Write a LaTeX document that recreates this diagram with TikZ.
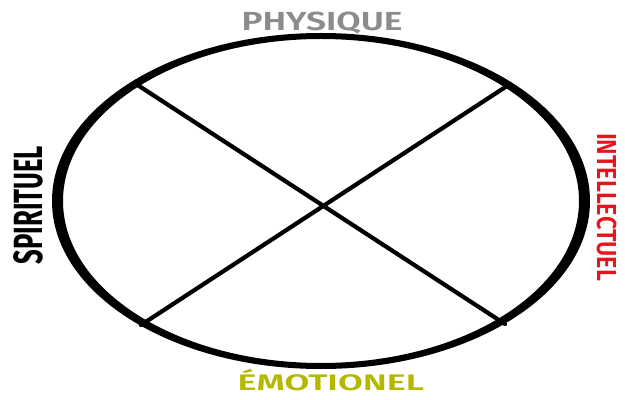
\documentclass[tikz,border=0pt]{standalone}
\usepackage{xcolor}
\usepackage{fontspec}
\setmainfont{Fira Sans}[UprightFont=* SemiBold, BoldFont=* Bold]
\definecolor{physgray}{HTML}{8C8C8C}
\definecolor{emoyellow}{HTML}{B4B800}
\definecolor{intelred}{HTML}{E8141C}
\tikzset{
  label/.style={inner sep=0pt},
  chord/.style={line width=3pt, line cap=round},
}
\begin{document}
\begin{tikzpicture}[x=0.025cm, y=-0.025cm]
  \useasboundingbox (0,0) rectangle (625,400);
  \coordinate (c) at (321,201);
  % thick hand-drawn ring, heavier at the sides
  \fill[black, even odd rule] (c) ellipse [x radius=269, y radius=168]
                              (c) ellipse [x radius=258, y radius=162];
  % the two chords through the centre
  \coordinate (tl) at (136,84);
  \coordinate (br) at (505,324);
  \coordinate (tr) at (510,84);
  \coordinate (bl) at (141,325);
  \draw[chord] (tl) -- (br);
  \draw[chord] (tr) -- (bl);
  \node[label, anchor=base, text=physgray, xscale=1.35, font=\fontsize{18.6}{19}\selectfont] (phys) at (322,31) {PHYSIQUE};
  \node[label, anchor=base, text=emoyellow, xscale=1.6, font=\fontsize{16}{17}\selectfont] (emo) at (331,390) {ÉMOTIONEL};
  \node[label, text=black, rotate=90, xscale=0.63, font=\bfseries\fontsize{29}{30}\selectfont] (spir) at (28,205) {SPIRITUEL};
  \node[label, text=intelred, rotate=-90, xscale=0.85, font=\fontsize{19.5}{20}\selectfont] (intel) at (607,207) {INTELLECTUEL};
\end{tikzpicture}
\end{document}
